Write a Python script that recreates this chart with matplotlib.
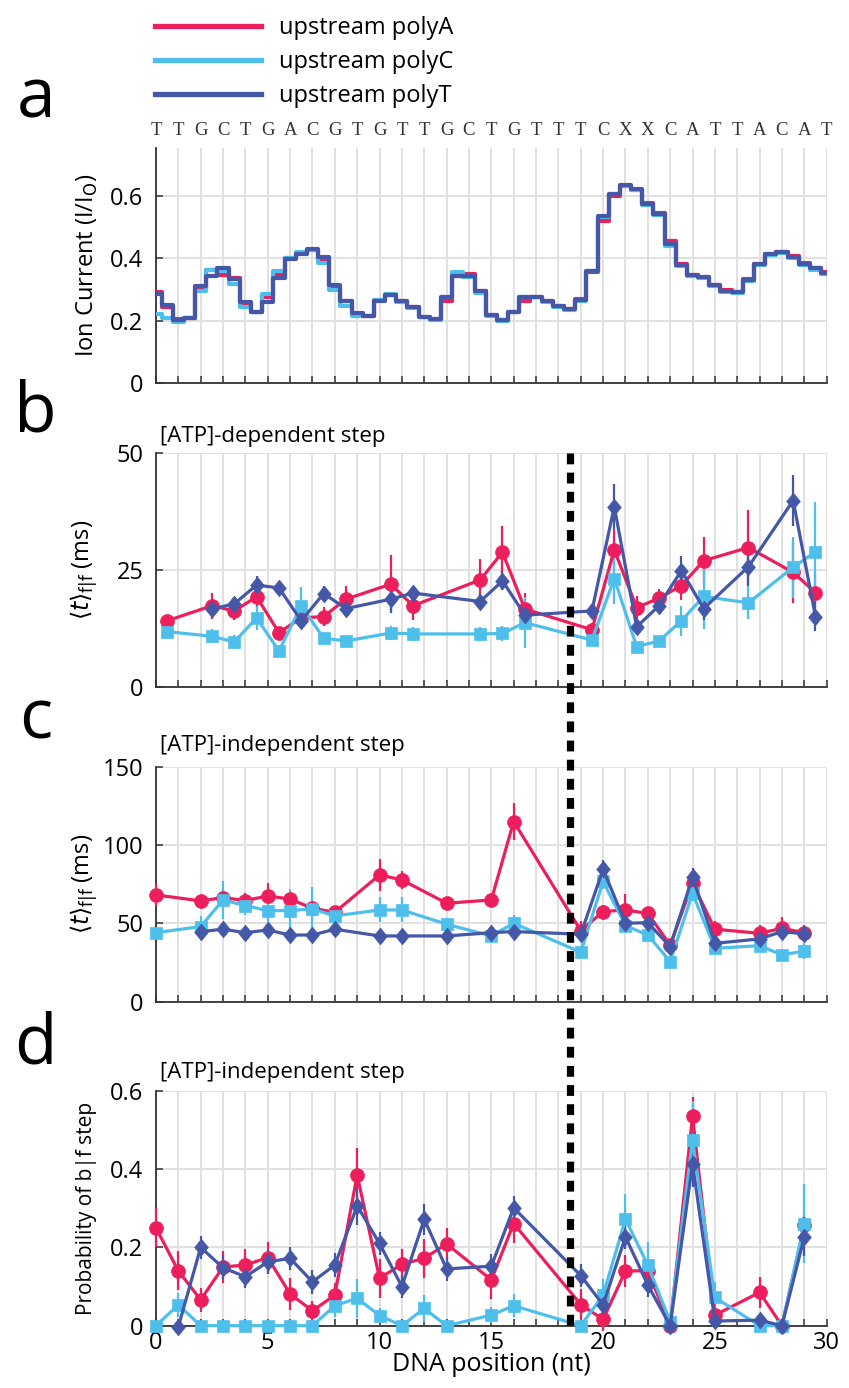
import numpy as np
import matplotlib
matplotlib.use('Agg')
from matplotlib import pyplot as plt
from matplotlib import transforms
from matplotlib.lines import Line2D
from matplotlib.path import Path
from matplotlib.ticker import FuncFormatter

plt.rcParams['font.family'] = ['Open Sans', 'DejaVu Sans']
plt.rcParams['mathtext.fontset'] = 'dejavusans'

# colours / labels
col_A = '#EC1E5C'
col_C = '#4EBFEB'
col_T = '#4558A8'
names = ['upstream polyA', 'upstream polyC', 'upstream polyT']
sequence = list('TTGCTGACGTGTTGCTGTTTCXXCATTACAT')
sep_pos = 18.5   # dashed separator (nt)

# panel a: ion current levels, every half nucleotide (0, 0.5, ..., 30)
ion_x = np.arange(61) * 0.5
ion_t = [0.285, 0.250, 0.202, 0.207, 0.312, 0.342, 0.369, 0.333, 0.261, 0.229,
         0.259, 0.337, 0.397, 0.415, 0.429, 0.405, 0.315, 0.264, 0.223, 0.216,
         0.262, 0.282, 0.264, 0.243, 0.213, 0.205, 0.277, 0.344, 0.342, 0.294,
         0.219, 0.202, 0.229, 0.277, 0.277, 0.264, 0.248, 0.237, 0.267, 0.360,
         0.536, 0.607, 0.635, 0.621, 0.575, 0.543, 0.445, 0.379, 0.347, 0.339,
         0.315, 0.296, 0.293, 0.330, 0.381, 0.415, 0.420, 0.404, 0.381, 0.367,
         0.354]
ion_a = [0.292, 0.245, 0.205, 0.207, 0.300, 0.362, 0.347, 0.335, 0.255, 0.228,
         0.275, 0.345, 0.400, 0.417, 0.427, 0.395, 0.305, 0.262, 0.222, 0.214,
         0.265, 0.282, 0.262, 0.245, 0.212, 0.205, 0.262, 0.342, 0.350, 0.296,
         0.218, 0.203, 0.229, 0.264, 0.275, 0.262, 0.247, 0.238, 0.270, 0.355,
         0.520, 0.600, 0.630, 0.620, 0.578, 0.545, 0.454, 0.380, 0.346, 0.341,
         0.314, 0.297, 0.293, 0.332, 0.382, 0.413, 0.421, 0.407, 0.384, 0.370,
         0.356]
ion_c = [0.221, 0.207, 0.195, 0.207, 0.296, 0.362, 0.358, 0.317, 0.245, 0.229,
         0.285, 0.360, 0.400, 0.420, 0.426, 0.385, 0.298, 0.248, 0.216, 0.214,
         0.267, 0.284, 0.260, 0.240, 0.210, 0.202, 0.275, 0.355, 0.340, 0.290,
         0.215, 0.200, 0.226, 0.274, 0.274, 0.260, 0.244, 0.234, 0.264, 0.358,
         0.533, 0.605, 0.632, 0.618, 0.572, 0.540, 0.440, 0.375, 0.343, 0.335,
         0.311, 0.292, 0.290, 0.327, 0.378, 0.410, 0.418, 0.400, 0.378, 0.363,
         0.350]

# panel b: [ATP]-dependent dwell times (ms)
b_x_ac = [0.5, 2.5, 3.5, 4.5, 5.5, 6.5, 7.5, 8.5, 10.5, 11.5, 14.5,
          15.5, 16.5, 19.5, 20.5, 21.5, 22.5, 23.5, 24.5, 26.5, 28.5, 29.5]
b_x_t = b_x_ac[1:]
b_a = [14.2, 17.4, 16.3, 19.3, 11.7, 14.8, 15.1, 18.8, 22.0, 17.4, 22.9,
       28.8, 16.7, 12.3, 29.3, 17.0, 19.0, 21.7, 27.0, 29.8, 24.5, 20.2]
b_a_err = [1.0, 2.8, 2.0, 2.4, 1.0, 1.0, 2.0, 2.8, 6.2, 3.0, 4.5,
           5.5, 3.5, 1.5, 4.5, 2.5, 2.0, 3.0, 5.0, 8.0, 6.5, 4.0]
b_c = [11.9, 10.9, 9.7, 14.8, 7.8, 17.4, 10.5, 9.9, 11.6, 11.4, 11.4,
       11.5, 13.8, 10.1, 23.2, 8.7, 9.9, 14.2, 19.4, 18.0, 25.6, 28.9]
b_c_err = [1.0, 1.5, 1.5, 2.5, 1.0, 4.0, 1.0, 1.0, 1.5, 1.5, 1.5,
           1.5, 5.5, 1.0, 5.5, 1.0, 1.0, 3.2, 7.0, 3.5, 6.5, 10.5]
b_t = [16.7, 17.8, 21.8, 21.2, 14.2, 20.0, 16.8, 18.8, 20.1, 18.3,
       22.7, 15.4, 16.3, 38.5, 12.9, 17.4, 24.9, 16.8, 25.7, 39.8, 15.1]
b_t_err = [1.5, 1.5, 2.0, 1.5, 1.5, 1.5, 1.5, 3.0, 1.5, 1.5,
           2.0, 1.5, 1.5, 4.8, 1.5, 1.5, 3.0, 2.5, 4.0, 5.5, 3.0]

# panel c: [ATP]-independent dwell times (ms)
c_x_ac = [0, 2, 3, 4, 5, 6, 7, 8, 10, 11, 13, 15,
          16, 19, 20, 21, 22, 23, 24, 25, 27, 28, 29]
c_x_t = c_x_ac[1:]
c_a = [68.2, 64.4, 66.5, 64.6, 67.6, 65.5, 59.7, 57.1, 81.0, 77.8, 62.9, 65.0,
       115.1, 45.4, 57.6, 58.6, 56.4, 36.2, 75.7, 46.3, 43.7, 46.9, 44.1]
c_a_err = [7, 4, 5, 5, 8, 4, 4, 3, 10, 6, 4, 4,
           12, 6, 4, 10, 4, 3, 6, 5, 5, 7, 5]
c_c = [44.1, 48.0, 65.0, 61.4, 58.2, 58.2, 59.3, 54.8, 58.6, 58.6, 49.5, 42.0,
       50.1, 31.6, 76.8, 48.6, 42.6, 25.6, 69.3, 34.1, 35.8, 29.9, 32.4]
c_c_err = [3, 7, 12, 6, 14, 14, 14, 4, 8, 8, 4, 4,
           5, 3, 5, 4, 4, 3, 5, 3, 4, 3, 5]
c_t = [44.8, 46.3, 44.1, 45.8, 42.6, 42.6, 46.3, 42.0, 42.0, 42.0, 44.1,
       44.8, 43.1, 84.6, 50.1, 50.5, 35.2, 79.5, 37.3, 40.1, 44.8, 43.3]
c_t_err = [4, 4, 3, 4, 3, 3, 4, 3, 3, 3, 3,
           4, 3, 6, 4, 4, 3, 6, 3, 3, 4, 3]

# panel d: probability of b|f step
d_x_ac = [0, 1, 2, 3, 4, 5, 6, 7, 8, 9, 10, 11, 12, 13, 15,
          16, 19, 20, 21, 22, 23, 24, 25, 27, 28, 29]
d_x_t = d_x_ac[1:]
d_a = [0.250, 0.140, 0.066, 0.150, 0.155, 0.174, 0.081, 0.038, 0.078, 0.385,
       0.121, 0.157, 0.172, 0.209, 0.117, 0.261, 0.054, 0.016, 0.140, 0.140,
       0.0, 0.535, 0.027, 0.085, 0.0, 0.257]
d_a_err = [0.05, 0.05, 0.03, 0.04, 0.04, 0.04, 0.04, 0.025, 0.03, 0.07,
           0.05, 0.04, 0.05, 0.04, 0.05, 0.05, 0.04, 0.03, 0.04, 0.03,
           0.01, 0.05, 0.02, 0.04, 0.01, 0.03]
d_c = [0.0, 0.053, 0.0, 0.0, 0.0, 0.0, 0.0, 0.0, 0.051, 0.070,
       0.026, 0.0, 0.044, 0.0, 0.027, 0.051, 0.0, 0.078, 0.272, 0.155,
       0.010, 0.474, 0.072, 0.0, 0.0, 0.261]
d_c_err = [0.01, 0.03, 0.005, 0.005, 0.005, 0.005, 0.005, 0.005, 0.03, 0.05,
           0.02, 0.005, 0.035, 0.005, 0.02, 0.03, 0.005, 0.04, 0.065, 0.06,
           0.02, 0.10, 0.04, 0.005, 0.005, 0.10]
d_t = [-0.003, 0.200, 0.148, 0.125, 0.163, 0.172, 0.112, 0.155, 0.306, 0.210,
       0.100, 0.272, 0.145, 0.152, 0.301, 0.128, 0.053, 0.227, 0.104, 0.0,
       0.414, 0.012, 0.014, 0.0, 0.227]
d_t_err = [0.01, 0.03, 0.03, 0.03, 0.03, 0.03, 0.03, 0.03, 0.05, 0.03,
           0.03, 0.04, 0.03, 0.03, 0.03, 0.03, 0.03, 0.03, 0.03, 0.01,
           0.06, 0.01, 0.01, 0.01, 0.05]

diamond = Path([(0, 1), (0.82, 0), (0, -1), (-0.82, 0), (0, 1)])
styles = [(col_A, 'o', 10), (col_C, 's', 8.5), (col_T, diamond, 12)]

fig = plt.figure(figsize=(8.49, 13.88), dpi=100)
L, W, H = 0.1837, 0.790, 0.1692
ax_a = fig.add_axes([L, 0.7241, W, H])
ax_b = fig.add_axes([L, 0.5047, W, H])
ax_c = fig.add_axes([L, 0.2783, W, H])
ax_d = fig.add_axes([L, 0.0449, W, H])

tick_fmt = FuncFormatter(lambda v, p: '0' if v == 0 else f'{v:g}')


def style_axis(ax, yticks, ylim):
    ax.set_xlim(0, 30)
    ax.set_ylim(*ylim)
    ax.set_xticks(range(31))
    ax.set_yticks(yticks)
    ax.yaxis.set_major_formatter(tick_fmt)
    ax.grid(True, color='#e1e1e1', lw=1.4, zorder=0)
    ax.set_axisbelow(True)
    for s in ['top', 'right']:
        ax.spines[s].set_visible(False)
    for s in ['left', 'bottom']:
        ax.spines[s].set_color('#333333')
        ax.spines[s].set_linewidth(1.3)
    ax.tick_params(direction='in', length=5, width=1.1, color='#333333',
                   labelsize=17, pad=9)
    ax.tick_params(axis='x', labelbottom=False)


# panel a
style_axis(ax_a, [0, 0.2, 0.4, 0.6], (0, 0.753))
for vals, (col, _, _) in zip([ion_a, ion_c, ion_t], styles):
    ax_a.step(ion_x, vals, where='mid', color=col, lw=3.0, zorder=3)
for i, ch in enumerate(sequence):
    ax_a.text(i, 1.075, ch, transform=ax_a.get_xaxis_transform(),
              ha='center', va='center', fontsize=13.5, color='#333333',
              family='Liberation Serif')
ax_a.set_ylabel('Ion Current (I/I$_\\mathrm{O}$)', fontsize=17)
ax_a.yaxis.set_label_coords(-0.083, 0.5)


def draw_points(ax, x, y, e, col, mk, ms):
    ax.errorbar(x, y, yerr=e, fmt='none', ecolor=col, elinewidth=1.6,
                capsize=0, zorder=3, clip_on=False)
    ax.plot(x, y, color=col, lw=2.3, marker=mk, ms=ms, mec=col, mew=0.5,
            zorder=4, clip_on=False)


# panel b
style_axis(ax_b, [0, 25, 50], (0, 50))
for x, y, e, st in [(b_x_ac, b_a, b_a_err, styles[0]),
                    (b_x_ac, b_c, b_c_err, styles[1]),
                    (b_x_t, b_t, b_t_err, styles[2])]:
    draw_points(ax_b, x, y, e, *st)
ax_b.set_ylabel(r'$\langle t\rangle_{\mathrm{f|f}}$ (ms)', fontsize=17)
ax_b.yaxis.set_label_coords(-0.085, 0.5)
ax_b.text(0.006, 1.025, '[ATP]-dependent step', transform=ax_b.transAxes,
          fontsize=16, ha='left', va='bottom')

# panel c
style_axis(ax_c, [0, 50, 100, 150], (0, 150))
for x, y, e, st in [(c_x_ac, c_a, c_a_err, styles[0]),
                    (c_x_ac, c_c, c_c_err, styles[1]),
                    (c_x_t, c_t, c_t_err, styles[2])]:
    draw_points(ax_c, x, y, e, *st)
ax_c.set_ylabel(r'$\langle t\rangle_{\mathrm{f|f}}$ (ms)', fontsize=17)
ax_c.yaxis.set_label_coords(-0.085, 0.5)
ax_c.text(0.006, 1.045, '[ATP]-independent step', transform=ax_c.transAxes,
          fontsize=16, ha='left', va='bottom')

# panel d
style_axis(ax_d, [0, 0.2, 0.4, 0.6], (0, 0.6))
for x, y, e, st in [(d_x_ac, d_a, d_a_err, styles[0]),
                    (d_x_ac, d_c, d_c_err, styles[1]),
                    (d_x_t, d_t, d_t_err, styles[2])]:
    draw_points(ax_d, x, y, e, *st)
ax_d.tick_params(axis='x', labelbottom=True, pad=4)
ax_d.xaxis.set_major_formatter(FuncFormatter(lambda v, p: f'{int(v)}' if v % 5 == 0 else ''))
ax_d.set_xlabel('DNA position (nt)', fontsize=18, labelpad=-2)
ax_d.set_ylabel('Probability of b|f step', fontsize=15)
ax_d.yaxis.set_label_coords(-0.088, 0.5)
ax_d.text(0.006, 1.035, '[ATP]-independent step', transform=ax_d.transAxes,
          fontsize=16, ha='left', va='bottom')

# dashed separator through panels b-d (x in data units, y in figure units)
sep_tr = transforms.blended_transform_factory(ax_b.transData, fig.transFigure)
fig.add_artist(Line2D([sep_pos, sep_pos], [0.5047 + H, 0.0435],
                      transform=sep_tr, color='black', lw=5.2,
                      linestyle=(0, (1.5, 1.15)), zorder=10))

# panel letters
for lab, y in [('a', 0.928), ('b', 0.702), ('c', 0.481), ('d', 0.247)]:
    fig.text(0.042, y, lab, fontsize=50, ha='center', va='center')

# legend
handles = [Line2D([], [], color=col, lw=3.8) for col, _, _ in styles]
fig.legend(handles, names, loc='upper left', bbox_to_anchor=(0.1826, 0.9885),
           frameon=False, fontsize=17, handlelength=4.5, handletextpad=0.75,
           labelspacing=0.42, borderpad=0, borderaxespad=0)

fig.savefig('out.png', dpi=100)
